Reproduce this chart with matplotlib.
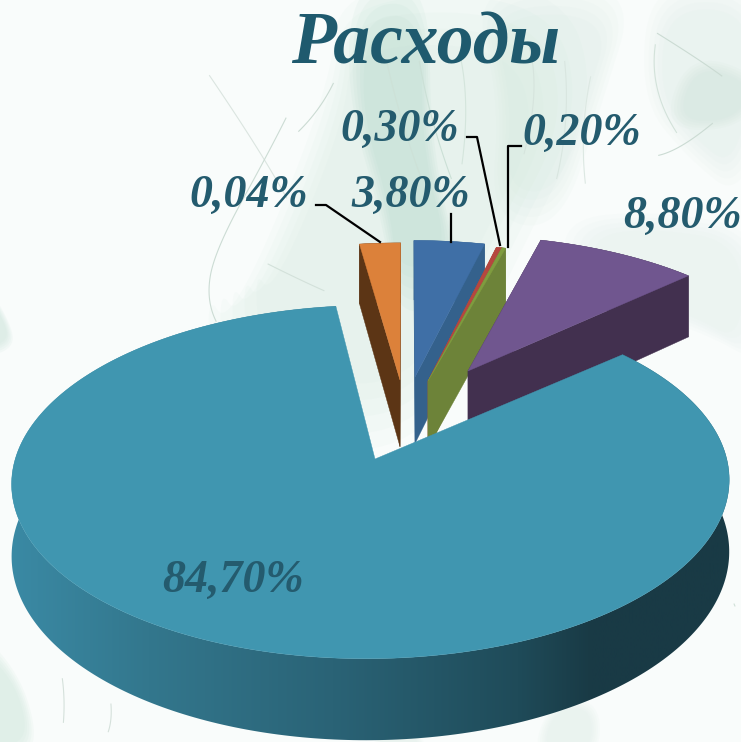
import numpy as np
import matplotlib
matplotlib.use("Agg")
import matplotlib.pyplot as plt
from matplotlib.colors import LinearSegmentedColormap
from matplotlib.patches import Polygon

# slices, clockwise from 12 o'clock
values = [3.8, 0.3, 0.2, 8.8, 84.7, 2.2]
labels = ["3,80%", "0,30%", "0,20%", "8,80%", "84,70%", "0,04%"]
title = "Расходы"

top_colors = ["#3f6fa6", "#b5473f", "#7f9c3f", "#70568f", "#4096b0", "#dc813a"]
wall_colors = ["#34618c", "#a8483c", "#6d8339", "#42304f", "#2f6f83", "#5c3515"]
apex_px = [(415, 377), (428, 381), (428, 381), (468, 371), (375, 459), (400, 380)]
rim_shift = [0, 0, 0, 0, -4, 0]
rim_extra = [(0, 0), (0, 0), (0, 0), (0, 0), (-2.2, 0.8), (0, 0)]  # degrees, start and end
draw_order = [5, 0, 1, 2, 3, 4]

label_pos = [(411, 196), (400, 130), (582, 134), (683, 217), (233, 581), (249, 196)]
leaders = [
    [(451, 214), (451, 242)],
    [(467, 137), (477, 137), (500, 245)],
    [(521, 146), (508, 146), (508, 247)],
    None,
    None,
    [(316, 205), (326, 205), (380, 242)],
]

plt.rcParams["font.family"] = ["Liberation Serif", "DejaVu Serif"]

# camera
cx, cy = 372, 460
a, b, p = 356, 174, 0.13
shear = 0.025
depth = 71


def project(x, y, drop=False):
    w = 1 + p * y
    return cx + a * x / w + shear * b * y / w, cy - b * y / w + (depth / w if drop else 0)


def unproject(sx, sy):
    u = (cy - sy) / b
    y = u / (1 - p * u)
    return (sx - cx - shear * b * u) * (1 + p * y) / a, y


def smooth(points, n=4, closed=True):
    pts = np.array(points, float)
    for _ in range(n):
        nxt = np.roll(pts, -1, axis=0)
        q = 0.75 * pts + 0.25 * nxt
        r = 0.25 * pts + 0.75 * nxt
        new = np.empty((2 * len(q), 2))
        new[0::2] = q
        new[1::2] = r
        pts = new if closed else new[:-2]
    return pts


fig = plt.figure(figsize=(7.41, 7.42), dpi=100, facecolor="#f9fcfb")
ax = fig.add_axes([0, 0, 1, 1])
ax.set_facecolor("#f9fcfb")

# background veil, a few shrunken copies so the edges stay soft
veils = [
    ([(340, -20), (330, 90), (230, 330), (205, 290), (215, 420), (420, 470), (520, 250), (600, 100), (560, -20)], "#c6e3d7", 0.30),
    ([(355, -20), (345, 90), (385, 230), (395, 320), (470, 300), (430, 150), (430, -20)], "#9fd1bd", 0.30),
    ([(470, -20), (500, 100), (490, 220), (560, 230), (600, 110), (640, -20)], "#cde6db", 0.30),
    ([(650, -20), (640, 100), (690, 160), (741, 200), (770, 90), (760, -20)], "#d2e8de", 0.30),
    ([(690, 50), (660, 130), (741, 130), (770, 80)], "#bcdccd", 0.25),
    ([(560, 220), (570, 290), (700, 330), (770, 370), (770, 230), (650, 210)], "#dbece4", 0.35),
    ([(-30, 260), (10, 320), (15, 350), (-30, 360)], "#c2e0d3", 0.45),
    ([(-30, 620), (25, 680), (40, 760), (-30, 760)], "#c5e2d5", 0.45),
    ([(380, 720), (420, 730), (430, 760), (370, 760)], "#d6e9df", 0.35),
    ([(550, 700), (600, 700), (600, 760), (530, 760)], "#d6e9df", 0.35),
]
for pts, col, alpha in veils:
    s = smooth(pts)
    mid = s.mean(axis=0)
    for k in (1.0, 0.93, 0.86, 0.79, 0.72):
        part = mid + (s - mid) * k
        ax.fill(part[:, 0], part[:, 1], color=col, alpha=alpha / 4, lw=0, zorder=1)

threads = [
    ([(165, 10), (260, 150), (310, 240)], "#dbe5e0"),
    ([(300, 90), (270, 150), (215, 250), (206, 300), (225, 340)], "#ccdcd4"),
    ([(345, 60), (320, 110), (280, 150)], "#cbdbd3"),
    ([(240, 250), (300, 280), (345, 300)], "#d3e1da"),
    ([(620, 10), (700, 60), (741, 90)], "#cbdbd3"),
    ([(741, 100), (680, 150), (640, 160)], "#cbdbd3"),
    ([(520, 10), (540, 90), (510, 210)], "#d6e4dd"),
    ([(410, 10), (430, 120), (470, 230)], "#cbe0d6"),
    ([(600, 30), (580, 130), (590, 230)], "#dce8e2"),
    ([(375, 10), (400, 120), (440, 230)], "#cde1d7"),
    ([(450, 10), (470, 100), (455, 220)], "#d4e5dc"),
    ([(560, 10), (570, 120), (545, 230)], "#d9e6e0"),
    ([(660, 5), (650, 90), (700, 170)], "#d3e2da"),
    ([(60, 660), (65, 700), (62, 742)], "#d5e1db"),
    ([(110, 690), (112, 720), (105, 742)], "#d5e1db"),
    ([(397, 720), (402, 742)], "#cfe0d7"),
    ([(728, 590), (741, 620)], "#cfe0d7"),
]
for pts, col in threads:
    t = smooth(pts, closed=False)
    ax.plot(t[:, 0], t[:, 1], color=col, lw=0.8, zorder=2)

# pie geometry from the values
fractions = np.array(values) / sum(values)
starts = np.concatenate([[0], np.cumsum(fractions)[:-1]]) * 2 * np.pi
ends = starts + fractions * 2 * np.pi

big = values.index(max(values))
z = 3
for i in draw_order:
    ox, oy = unproject(*apex_px[i])
    th = np.linspace(starts[i] - np.radians(rim_extra[i][0]), ends[i] + np.radians(rim_extra[i][1]),
                     max(4, int(fractions[i] * 400)))
    xs = ox + np.sin(th) + rim_shift[i] / a
    ys = oy + np.cos(th)
    rim = np.array([project(x, y) for x, y in zip(xs, ys)])
    rim_low = np.array([project(x, y, True) for x, y in zip(xs, ys)])
    apex = np.array(project(ox, oy))
    apex_low = np.array(project(ox, oy, True))

    if i == big:
        wall = np.vstack([rim, rim_low[::-1]])
        cmap = LinearSegmentedColormap.from_list(
            "wall",
            [(0, "#3b8ba6"), (0.2, "#33778d"), (0.45, "#2a6376"), (0.7, "#1f4b59"), (0.8, "#193a45"), (1, "#193a45")],
        )
        im = ax.imshow(np.linspace(0, 1, 256)[None, :], cmap=cmap, extent=(0, 741, 760, 300),
                       aspect="auto", zorder=z)
        im.set_clip_path(Polygon(wall, transform=ax.transData))
    else:
        for poly in (
            np.vstack([rim, rim_low[::-1]]),
            np.array([apex, rim[0], rim_low[0], apex_low]),
            np.array([apex, rim[-1], rim_low[-1], apex_low]),
        ):
            ax.fill(poly[:, 0], poly[:, 1], color=wall_colors[i], lw=0.3, zorder=z)
    z += 1
    top = np.vstack([apex, rim])
    ax.fill(top[:, 0], top[:, 1], color=top_colors[i], lw=0.3, zorder=z)
    z += 1

for line in leaders:
    if line is not None:
        pts = np.array(line)
        ax.plot(pts[:, 0], pts[:, 1], color="black", lw=1.6, zorder=z, solid_joinstyle="round")

ax.text(426, 46, title, fontsize=53, style="italic", weight="bold", color="#1f5a6e",
        ha="center", va="center", zorder=z + 1)
for lab, (x, y) in zip(labels, label_pos):
    ax.text(x, y, lab, fontsize=33, style="italic", weight="bold",
            color="#245b6e", ha="center", va="center", zorder=z + 1)

ax.set_xlim(0, 741)
ax.set_ylim(742, 0)
ax.axis("off")
fig.savefig("out.png", dpi=100, facecolor=fig.get_facecolor())
